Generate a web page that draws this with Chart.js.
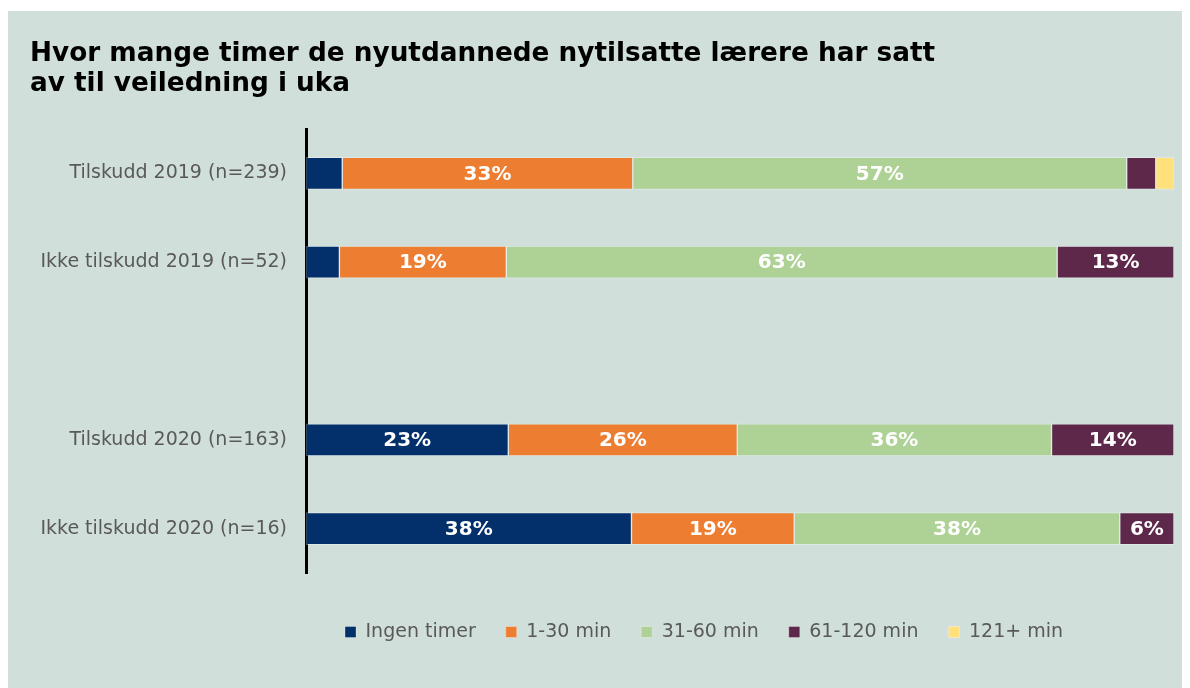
<!DOCTYPE html>
<html>
<head>
<meta charset="utf-8">
<script src="https://cdn.jsdelivr.net/npm/chart.js@4"></script>
<style>
  body {
    margin: 0;
    background: #ffffff;
  }
  #chartContainer {
    position: absolute;
    left: 8px;
    top: 11px;
    width: 1174px;
    height: 677px;
    background: #d0dfd9;
  }
</style>
</head>
<body>
<div id="chartContainer">
  <canvas id="myChart" width="1174" height="677"></canvas>
</div>
<script>
const categories = [
  "Tilskudd 2019 (n=239)",
  "Ikke tilskudd 2019 (n=52)",
  "",
  "Tilskudd 2020 (n=163)",
  "Ikke tilskudd 2020 (n=16)",
];

const seriesNames = ["Ingen timer", "1-30 min", "31-60 min", "61-120 min", "121+ min"];

// percent per category, the empty row is the gap between the years
const ingenTimer = [4.18, 3.85, null, 23.31, 37.5];
const min1to30 = [33.47, 19.23, null, 26.38, 18.75];
const min31to60 = [56.9, 63.46, null, 36.2, 37.5];
const min61to120 = [3.35, 13.46, null, 14.11, 6.25];
const min121plus = [2.09, null, null, null, null];

const colors = ["#032f6b", "#ed7d31", "#aed196", "#5e284b", "#ffe07b"];

const fontFamily = "'DejaVu Sans', Verdana, sans-serif";

const data = {
  labels: categories,
  datasets: [ingenTimer, min1to30, min31to60, min61to120, min121plus].map(
    (values, index) => {
      return {
        label: seriesNames[index],
        data: values,
        backgroundColor: colors[index],
        borderColor: "rgba(255, 255, 255, 0.3)",
        borderWidth: 1,
        borderSkipped: false,
        barThickness: 32,
      };
    }
  ),
};

// white percent labels inside the bars
const barLabels = {
  id: "barLabels",
  afterDatasetsDraw(chart) {
    const ctx = chart.ctx;
    ctx.save();
    ctx.font = "bold 20px " + fontFamily;
    ctx.fillStyle = "#ffffff";
    ctx.textAlign = "center";
    ctx.textBaseline = "middle";
    chart.data.datasets.forEach((dataset, i) => {
      chart.getDatasetMeta(i).data.forEach((bar, j) => {
        const value = dataset.data[j];
        if (value == null || value < 5) return;
        const center = bar.getCenterPoint();
        ctx.fillText(Math.round(value) + "%", center.x, center.y + 1);
      });
    });
    ctx.restore();
  },
};

// move the legend to where the original has it
const legendPlace = {
  id: "legendPlace",
  afterLayout(chart) {
    const legend = chart.legend;
    const pad = legend.options.labels.padding;
    const w = legend.width;
    const h = legend.height;
    legend.left = 337 - pad;
    legend.right = legend.left + w;
    legend.top = 621 - pad - 9.5;
    legend.bottom = legend.top + h;
  },
};

// config
const config = {
  type: "bar",
  data,
  options: {
    indexAxis: "y",
    responsive: false,
    animation: false,
    layout: {
      padding: { left: 22, right: 8, top: 0, bottom: 56 },
    },
    plugins: {
      title: {
        display: true,
        align: "start",
        text: [
          "Hvor mange timer de nyutdannede nytilsatte lærere har satt",
          "av til veiledning i uka",
        ],
        color: "#000000",
        font: { family: fontFamily, size: 26.3, weight: "bold", lineHeight: 30 / 26.3 },
        padding: { top: 28, bottom: 30 },
      },
      legend: {
        position: "bottom",
        align: "start",
        labels: {
          boxWidth: 11,
          boxHeight: 11,
          padding: 30,
          color: "#595959",
          font: { family: fontFamily, size: 19 },
        },
      },
      tooltip: { enabled: false },
    },
    scales: {
      x: {
        stacked: true,
        display: false,
        min: 0,
        max: 100,
      },
      y: {
        stacked: true,
        grid: { display: false },
        border: { display: true, color: "#000000", width: 3 },
        ticks: {
          color: "#595959",
          padding: 11,
          font: { family: fontFamily, size: 19 },
        },
        afterFit(scale) {
          scale.width = 276;
        },
      },
    },
  },
  plugins: [barLabels, legendPlace],
};

// render init block
const myChart = new Chart(document.getElementById("myChart"), config);
</script>
</body>
</html>
